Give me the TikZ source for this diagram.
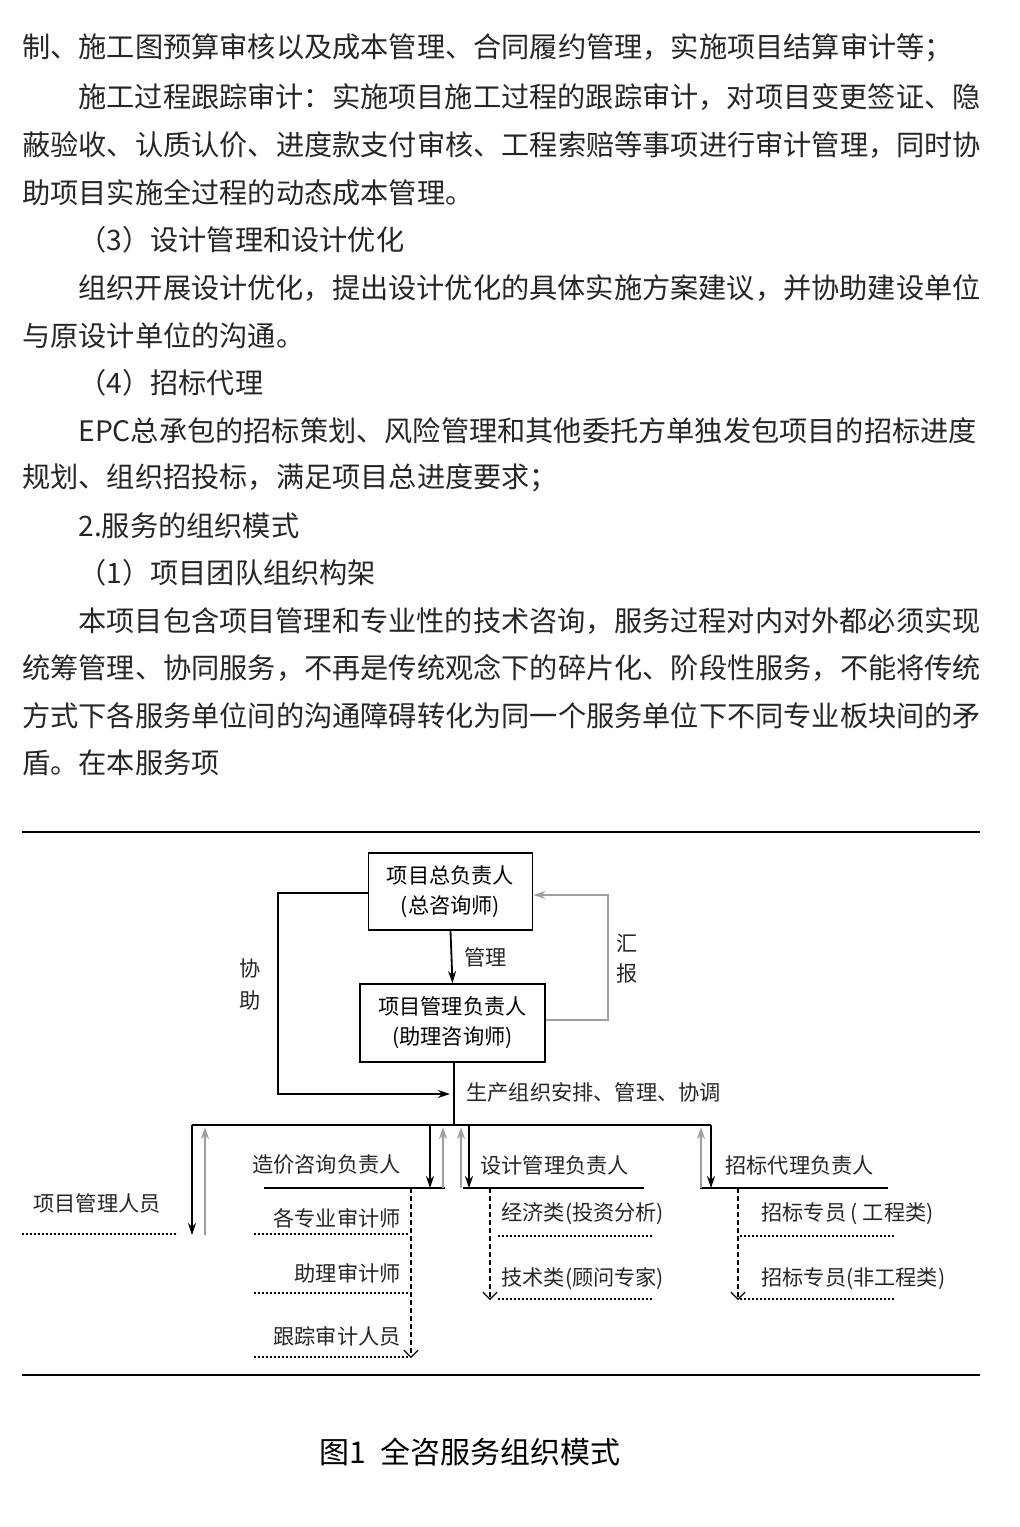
\documentclass[tikz,border=0pt]{standalone}
\usepackage{fontspec}
\setmainfont{Noto Sans CJK SC}
\usetikzlibrary{arrows.meta}
\tikzset{
  body/.style={anchor=west,inner sep=0pt,font=\fontsize{14.1pt}{16pt}\selectfont,text=black!85},
  lbl/.style={inner sep=0pt,font=\fontsize{10.6pt}{12pt}\selectfont,text=black!85},
  box/.style={draw,line width=0.9pt,inner sep=0pt,align=center,font=\fontsize{10.6pt}{15pt}\selectfont},
  blk/.style={line width=0.9pt,-{Stealth[length=6pt,width=4pt]}},
  gry/.style={line width=0.9pt,gray!75,-{Stealth[length=6pt,width=4pt]}},
  dsh/.style={line width=0.6pt,dash pattern=on 2.5pt off 1.5pt,-{Straight Barb[length=3.5pt,width=7pt]}},
  dot/.style={line width=0.9pt,dash pattern=on 0.8pt off 1.2pt},
  rule/.style={line width=1.2pt}
}
\begin{document}
\begin{tikzpicture}[x=0.5pt,y=-0.5pt]
\useasboundingbox (0,0) rectangle (1020,1527);
% body text
\node[body] (t1) at (22,48) {制、施工图预算审核以及成本管理、合同履约管理，实施项目结算审计等；};
\node[body] (t2) at (78,97) {施工过程跟踪审计：实施项目施工过程的跟踪审计，对项目变更签证、隐};
\node[body] (t3) at (22,145) {蔽验收、认质认价、进度款支付审核、工程索赔等事项进行审计管理，同时协};
\node[body] (t4) at (22,193) {助项目实施全过程的动态成本管理。};
\node[body] (t5) at (78,240) {（3）设计管理和设计优化};
\node[body] (t6) at (78,288) {组织开展设计优化，提出设计优化的具体实施方案建议，并协助建设单位};
\node[body] (t7) at (22,336) {与原设计单位的沟通。};
\node[body] (t8) at (78,383) {（4）招标代理};
\node[body] (t9) at (78,431) {EPC总承包的招标策划、风险管理和其他委托方单独发包项目的招标进度};
\node[body] (t10) at (22,478) {规划、组织招投标，满足项目总进度要求；};
\node[body] (t11) at (78,526) {2.服务的组织模式};
\node[body] (t12) at (78,573) {（1）项目团队组织构架};
\node[body] (t13) at (78,621) {本项目包含项目管理和专业性的技术咨询，服务过程对内对外都必须实现};
\node[body] (t14) at (22,668) {统筹管理、协同服务，不再是传统观念下的碎片化、阶段性服务，不能将传统};
\node[body] (t15) at (22,716) {方式下各服务单位间的沟通障碍转化为同一个服务单位下不同专业板块间的矛};
\node[body] (t16) at (22,763) {盾。在本服务项};
% rules
\draw[rule] (22,832) -- (980,832);
\draw[rule] (22,1375) -- (980,1375);
% boxes
\node[box,minimum width=82pt,minimum height=38.5pt] (b1) at (450.5,891.5) {项目总负责人\\(总咨询师)};
\node[box,minimum width=92.5pt,minimum height=39pt] (b2) at (452.5,1023) {项目管理负责人\\(助理咨询师)};
\draw[blk] (b1.south) -- (b2.north) node[midway,right=6pt,lbl] {管理};
\coordinate (hb1) at (608,1020);
\coordinate (hb2) at (608,895);
\draw[gry] (b2.east |- hb1) -- (hb1) -- (hb2) -- (b1.east |- hb2);
\node[lbl] (hui) at (627,943) {汇};
\node[lbl] (bao) at (627,973) {报};
\coordinate (xz1) at (278,893);
\coordinate (xz2) at (278,1094);
\coordinate (xz3) at (450,1094);
\draw[blk] (b1.west |- xz1) -- (xz1) -- (xz2) -- (xz3);
\node[lbl] (xie) at (250,968) {协};
\node[lbl] (zhu) at (250,1000) {助};
\coordinate (busc) at (454,1125);
\draw[line width=0.9pt] (b2.south -| busc) -- (busc);
\node[lbl,anchor=west] (sc) at (466,1092) {生产组织安排、管理、协调};
\coordinate (busL) at (192,1125);
\coordinate (busR) at (711,1125);
\draw[line width=1pt] (busL) -- (busR);
% left branch
\coordinate (lm) at (192,1235);
\draw[blk] (busL) -- (lm);
\draw[gry] (205,1235) -- (205,1127);
\node[lbl] (xmgl) at (97,1203) {项目管理人员};
\draw[dot] (22,1234) -- (178,1234);
% cost
\node[lbl,anchor=east] (zj) at (401,1165) {造价咨询负责人};
\draw[line width=1pt] (264,1188) -- (445,1188);
\draw[blk] (430,1125) -- (430,1188);
\draw[gry] (443,1188) -- (443,1127);
\draw[dsh] (411,1188) -- (411,1358);
\node[lbl,anchor=east] (c1) at (401,1218) {各专业审计师};
\draw[dot] (254,1234) -- (410,1234);
\node[lbl,anchor=east] (c2) at (401,1273) {助理审计师};
\draw[dot] (254,1293) -- (410,1293);
\node[lbl,anchor=east] (c3) at (401,1336) {跟踪审计人员};
\draw[dot] (254,1357) -- (408,1357);
% design
\node[lbl,anchor=west] (sj) at (480,1165) {设计管理负责人};
\draw[line width=1pt] (463,1188) -- (644,1188);
\draw[gry] (461,1188) -- (461,1127);
\draw[blk] (469,1125) -- (469,1188);
\draw[dsh] (490,1188) -- (490,1300);
\node[lbl,anchor=west] (d1) at (501,1214) {经济类(投资分析)};
\draw[dot] (498,1236) -- (654,1236);
\node[lbl,anchor=west] (d2) at (501,1279) {技术类(顾问专家)};
\draw[dot] (498,1299) -- (654,1299);
% bidding
\node[lbl,anchor=west] (zb) at (725,1165) {招标代理负责人};
\draw[line width=1pt] (700,1188) -- (888,1188);
\draw[gry] (701,1188) -- (701,1127);
\draw[blk] (busR) -- (711,1188);
\draw[dsh] (738,1188) -- (738,1300);
\node[lbl,anchor=west] (e1) at (761,1214) {招标专员 ( 工程类)};
\draw[dot] (740,1236) -- (894,1236);
\node[lbl,anchor=west] (e2) at (761,1279) {招标专员(非工程类)};
\draw[dot] (740,1299) -- (894,1299);
% caption
\node[inner sep=0pt,font=\fontsize{15pt}{17pt}\selectfont] (cap) at (470,1452) {图1\hspace{0.5em}全咨服务组织模式};
\end{tikzpicture}
\end{document}
